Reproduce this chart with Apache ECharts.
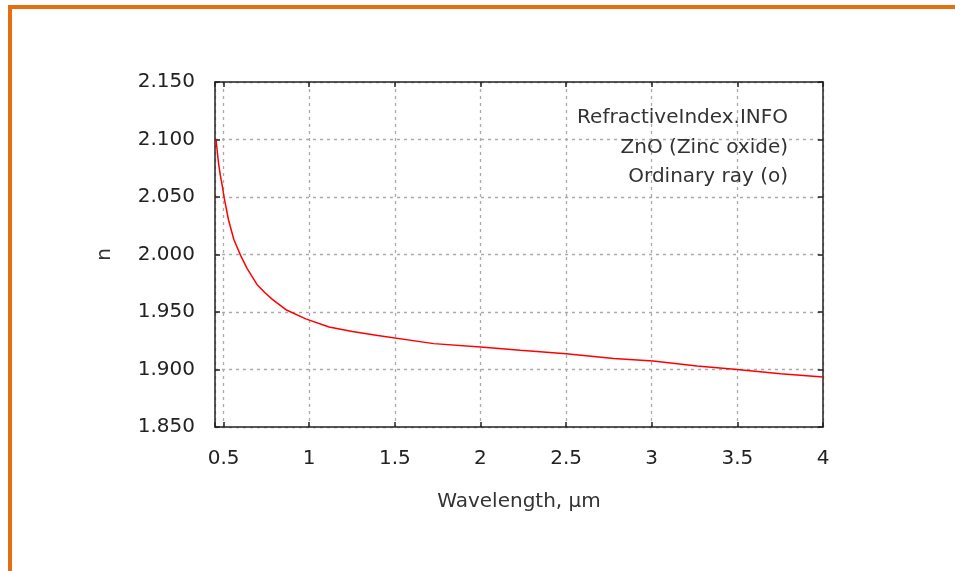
<!DOCTYPE html>
<html>
<head>
<meta charset="utf-8">
<script src="https://cdn.jsdelivr.net/npm/echarts@6/dist/echarts.min.js"></script>
<style>
html,body{margin:0;padding:0;background:#fff;}
#chart{width:955px;height:571px;}
</style>
</head>
<body>
<div id="chart"></div>
<script>
// Data
const wavelength = [0.456, 0.463, 0.471, 0.481, 0.491, 0.504, 0.529, 0.56, 0.60, 0.637, 0.695, 0.74, 0.785, 0.864, 0.98, 1.116, 1.252, 1.40, 1.727, 2.0, 2.233, 2.5, 2.778, 3.008, 3.265, 3.499, 3.752, 4.0];
const refractiveIndex = [2.100, 2.090, 2.079, 2.069, 2.061, 2.049, 2.030, 2.013, 1.999, 1.988, 1.974, 1.967, 1.961, 1.952, 1.944, 1.937, 1.933, 1.9295, 1.9225, 1.9196, 1.9167, 1.9138, 1.9095, 1.9074, 1.9031, 1.9000, 1.8964, 1.8934];
const annotationLines = ['RefractiveIndex.INFO', 'ZnO (Zinc oxide)', 'Ordinary ray (o)'];
const xAxisTitle = 'Wavelength, µm';
const yAxisTitle = 'n';

const FONT = 'DejaVu Sans';
const axisColor = '#222';
const gridStyle = {color: '#aaa', width: 1.3, type: [3, 4]};

const chart = echarts.init(document.getElementById('chart'), null, {renderer: 'canvas'});
const seriesData = wavelength.map((w, i) => [w, refractiveIndex[i]]);

const isHalfStep = v => Math.abs(v * 2 - Math.round(v * 2)) < 1e-6;

const annotationGraphics = annotationLines.map((t, i) => ({
  type: 'text',
  x: 788,
  y: 118 + i * 29.5,
  style: {text: t, fontFamily: FONT, fontSize: 20, fill: '#333', align: 'right', verticalAlign: 'middle'},
  silent: true,
  z: 10
}));

chart.setOption({
  animation: false,
  backgroundColor: '#fff',
  graphic: [{
    type: 'rect',
    shape: {x: 10, y: 7, width: 1200, height: 1200},
    style: {fill: 'none', stroke: '#e36f10', lineWidth: 4},
    silent: true
  }].concat(annotationGraphics),
  grid: {left: 215, top: 82, width: 608, height: 345, containLabel: false},
  xAxis: [{
    type: 'value', min: 0.45, max: 4, splitNumber: 7, position: 'bottom',
    name: xAxisTitle, nameLocation: 'middle', nameGap: 65,
    nameTextStyle: {fontFamily: FONT, fontSize: 20, color: '#333'},
    axisLine: {show: true, onZero: false, lineStyle: {color: axisColor, width: 1.5}},
    axisTick: {show: true, inside: true, length: 5, lineStyle: {color: axisColor, width: 1.5}},
    axisLabel: {fontFamily: FONT, fontSize: 20, color: '#222', margin: 22,
      formatter: v => isHalfStep(v) ? String(Math.round(v * 10) / 10) : ''},
    splitLine: {show: true, lineStyle: gridStyle}
  }, {
    type: 'value', min: 0.45, max: 4, splitNumber: 7, position: 'top',
    axisLine: {show: true, onZero: false, lineStyle: {color: axisColor, width: 1.5}},
    axisTick: {show: true, inside: true, length: 5, lineStyle: {color: axisColor, width: 1.5}},
    axisLabel: {show: false},
    splitLine: {show: false}
  }],
  yAxis: [{
    type: 'value', min: 1.85, max: 2.15, interval: 0.05, position: 'left',
    name: yAxisTitle, nameLocation: 'middle', nameGap: 100,
    nameTextStyle: {fontFamily: FONT, fontSize: 20, color: '#333'},
    axisLine: {show: true, onZero: false, lineStyle: {color: axisColor, width: 1.5}},
    axisTick: {show: true, inside: true, length: 5, lineStyle: {color: axisColor, width: 1.5}},
    axisLabel: {fontFamily: FONT, fontSize: 20, color: '#222', margin: 20,
      formatter: v => v.toFixed(3)},
    splitLine: {show: true, lineStyle: gridStyle}
  }, {
    type: 'value', min: 1.85, max: 2.15, interval: 0.05, position: 'right',
    axisLine: {show: true, onZero: false, lineStyle: {color: axisColor, width: 1.5}},
    axisTick: {show: true, inside: true, length: 5, lineStyle: {color: axisColor, width: 1.5}},
    axisLabel: {show: false},
    splitLine: {show: false}
  }],
  series: [{
    type: 'line',
    xAxisIndex: 0, yAxisIndex: 0,
    data: seriesData,
    showSymbol: false,
    smooth: false,
    lineStyle: {color: '#ff0000', width: 1.5},
    z: 5
  }]
});
</script>
</body>
</html>
